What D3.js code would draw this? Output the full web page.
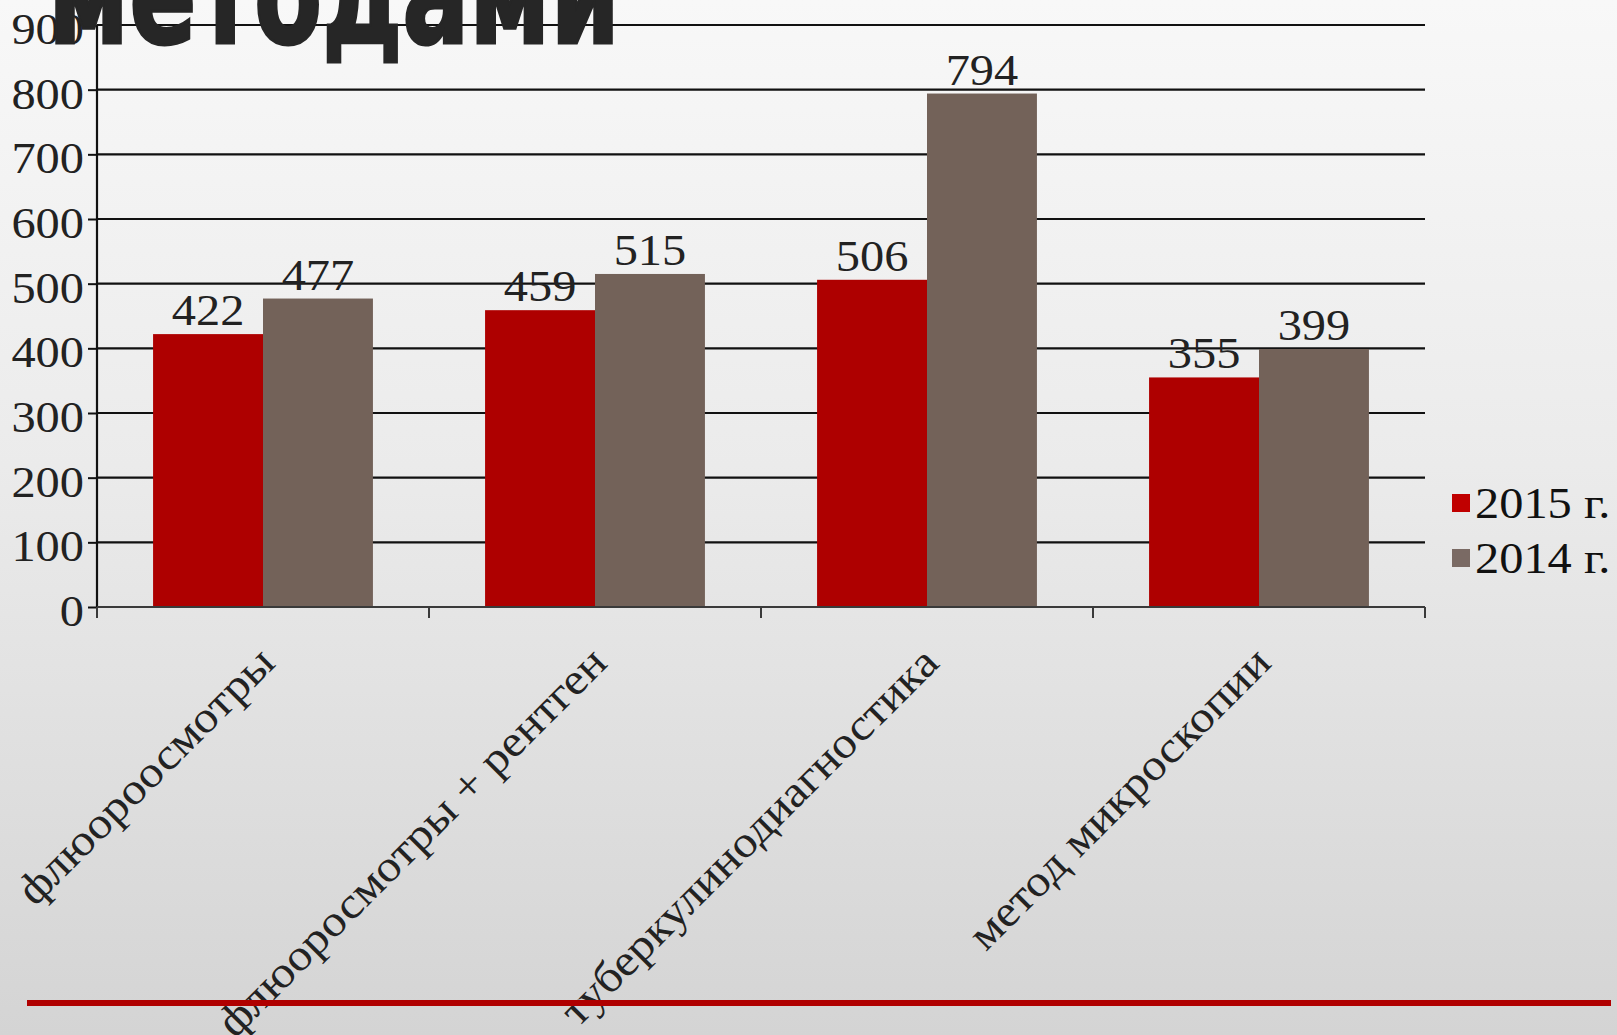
<!DOCTYPE html>
<html>
<head>
<meta charset="utf-8">
<script src="https://cdn.jsdelivr.net/npm/d3@7"></script>
<style>
    html, body { margin: 0; padding: 0; overflow: hidden; }
    svg { display: block; }
</style>
</head>
<body>
<div id="chart"></div>
<script>
(function(root){
    var d3 = root.d3;

    // data
    var categories = ["флюороосмотры", "флюоросмотры + рентген", "туберкулинодиагностика", "метод микроскопии"];
    var seriesNames = ["2015 г.", "2014 г."];
    var values2015 = [422, 459, 506, 355];
    var values2014 = [477, 515, 794, 399];
    var yTicks = [0, 100, 200, 300, 400, 500, 600, 700, 800, 900];
    var titleText = "методами";

    var W = 1617, H = 1035;
    var margin = {top: 25, right: 192, bottom: 428, left: 97},
        width = W - margin.left - margin.right,
        height = H - margin.top - margin.bottom;

    var serif = "'Liberation Serif', 'Times New Roman', serif",
        stretch = "scale(1.1,1)"; // the source text is a bit wide

    var colors = {"2015 г.": "#ae0000", "2014 г.": "#736259"};
    var legendColors = {"2015 г.": "#c00000", "2014 г.": "#7a6a64"};

    var rows = categories.map(function(c, i){
        return {cat: c, values: [
            {key: seriesNames[0], value: values2015[i]},
            {key: seriesNames[1], value: values2014[i]}
        ]};
    });

    var svg = d3.select("#chart").append("svg")
        .attr("width", W)
        .attr("height", H);

    var defs = svg.append("defs");
    var grad = defs.append("linearGradient")
        .attr("id", "bg")
        .attr("x1", 0).attr("y1", 0).attr("x2", 0).attr("y2", 1);
    grad.append("stop").attr("offset", "0%").attr("stop-color", "#f8f8f8");
    grad.append("stop").attr("offset", "45%").attr("stop-color", "#ebebeb");
    grad.append("stop").attr("offset", "100%").attr("stop-color", "#d4d4d4");

    svg.append("rect")
        .attr("width", W).attr("height", H)
        .attr("fill", "url(#bg)");

    var g = svg.append("g")
        .attr("transform", "translate(" + margin.left + "," + margin.top + ")");

    var x = d3.scaleBand()
        .domain(categories)
        .range([0, width])
        .paddingInner(0)
        .paddingOuter(0);

    var x1 = d3.scaleBand()
        .domain(seriesNames)
        .range([0, x.bandwidth()])
        .paddingInner(0)
        .paddingOuter(0.51);

    var y = d3.scaleLinear()
        .domain([0, 900])
        .range([height, 0]);

    // gridlines
    g.append("g")
        .attr("class", "grid")
        .selectAll("line")
        .data(yTicks.filter(function(d){ return d > 0; }))
        .enter().append("line")
        .attr("x1", 0).attr("x2", width)
        .attr("y1", function(d){ return y(d); })
        .attr("y2", function(d){ return y(d); })
        .attr("stroke", "#111")
        .attr("stroke-width", 2.2);

    // bars
    var groups = g.selectAll(".cat")
        .data(rows)
        .enter().append("g")
        .attr("class", "cat")
        .attr("transform", function(d){ return "translate(" + x(d.cat) + ",0)"; });

    groups.selectAll("rect")
        .data(function(d){ return d.values; })
        .enter().append("rect")
        .attr("x", function(d){ return x1(d.key); })
        .attr("y", function(d){ return y(d.value); })
        .attr("width", x1.bandwidth())
        .attr("height", function(d){ return height - y(d.value); })
        .attr("fill", function(d){ return colors[d.key]; });

    groups.selectAll("text")
        .data(function(d){ return d.values; })
        .enter().append("text")
        .attr("transform", function(d){
            return "translate(" + (x1(d.key) + x1.bandwidth() / 2) + "," + (y(d.value) - 9) + ") " + stretch;
        })
        .attr("text-anchor", "middle")
        .attr("font-family", serif)
        .attr("font-size", 44)
        .attr("fill", "#222")
        .text(function(d){ return d.value; });

    // y axis
    var yAxis = d3.axisLeft(y)
        .tickValues(yTicks)
        .tickSize(9)
        .tickPadding(4);

    var ya = g.append("g").attr("class", "yAxis").call(yAxis);
    ya.select(".domain").attr("stroke", "#111").attr("stroke-width", 2.2)
        .attr("d", "M0," + y(900) + "V" + height);
    ya.selectAll(".tick line").attr("stroke", "#111").attr("stroke-width", 2);
    ya.selectAll(".tick text")
        .attr("x", -13 / 1.1)
        .attr("transform", stretch)
        .attr("font-family", serif)
        .attr("font-size", 44)
        .attr("fill", "#222")
        .attr("dy", "0.42em");

    // x axis: ticks at category boundaries
    var bounds = categories.map(function(c){ return x(c); }).concat([width]);
    var xa = g.append("g").attr("class", "xAxis")
        .attr("transform", "translate(0," + height + ")");
    xa.append("line")
        .attr("x1", 0).attr("x2", width)
        .attr("stroke", "#3a3a3a").attr("stroke-width", 2.2);
    xa.selectAll(".btick")
        .data(bounds)
        .enter().append("line")
        .attr("class", "btick")
        .attr("x1", function(d){ return d; })
        .attr("x2", function(d){ return d; })
        .attr("y1", 0).attr("y2", 11)
        .attr("stroke", "#3a3a3a").attr("stroke-width", 2);

    xa.selectAll(".clabel")
        .data(categories)
        .enter().append("text")
        .attr("class", "clabel")
        .attr("text-anchor", "end")
        .attr("font-family", serif)
        .attr("font-size", 44)
        .attr("fill", "#222")
        .attr("transform", function(d){
            return "translate(" + (x(d) + x.bandwidth() / 2 + 14) + ",58) rotate(-45) " + stretch;
        })
        .text(function(d){ return d; });

    // legend
    var legend = svg.append("g")
        .attr("class", "legend")
        .attr("transform", "translate(1452,494)");

    var li = legend.selectAll("g")
        .data(seriesNames)
        .enter().append("g")
        .attr("transform", function(d, i){ return "translate(0," + (i * 55) + ")"; });

    li.append("rect")
        .attr("width", 18).attr("height", 18)
        .attr("fill", function(d){ return legendColors[d]; });

    li.append("text")
        .attr("transform", "translate(23,24) " + stretch)
        .attr("font-family", serif)
        .attr("font-size", 44)
        .attr("fill", "#111")
        .text(function(d){ return d; });

    // title, cut off at top of slide
    svg.append("text")
        .attr("x", 48).attr("y", 43)
        .attr("font-family", "'DejaVu Sans', sans-serif")
        .attr("font-weight", "bold")
        .attr("font-size", 140)
        .attr("textLength", 572)
        .attr("lengthAdjust", "spacingAndGlyphs")
        .attr("fill", "#262626")
        .attr("stroke", "#262626")
        .attr("stroke-width", 3)
        .text(titleText);

    // red rule near the bottom
    svg.append("line")
        .attr("x1", 27).attr("x2", 1611)
        .attr("y1", 1003).attr("y2", 1003)
        .attr("stroke", "#b00000")
        .attr("stroke-width", 6);
}(this));
</script>
</body>
</html>
